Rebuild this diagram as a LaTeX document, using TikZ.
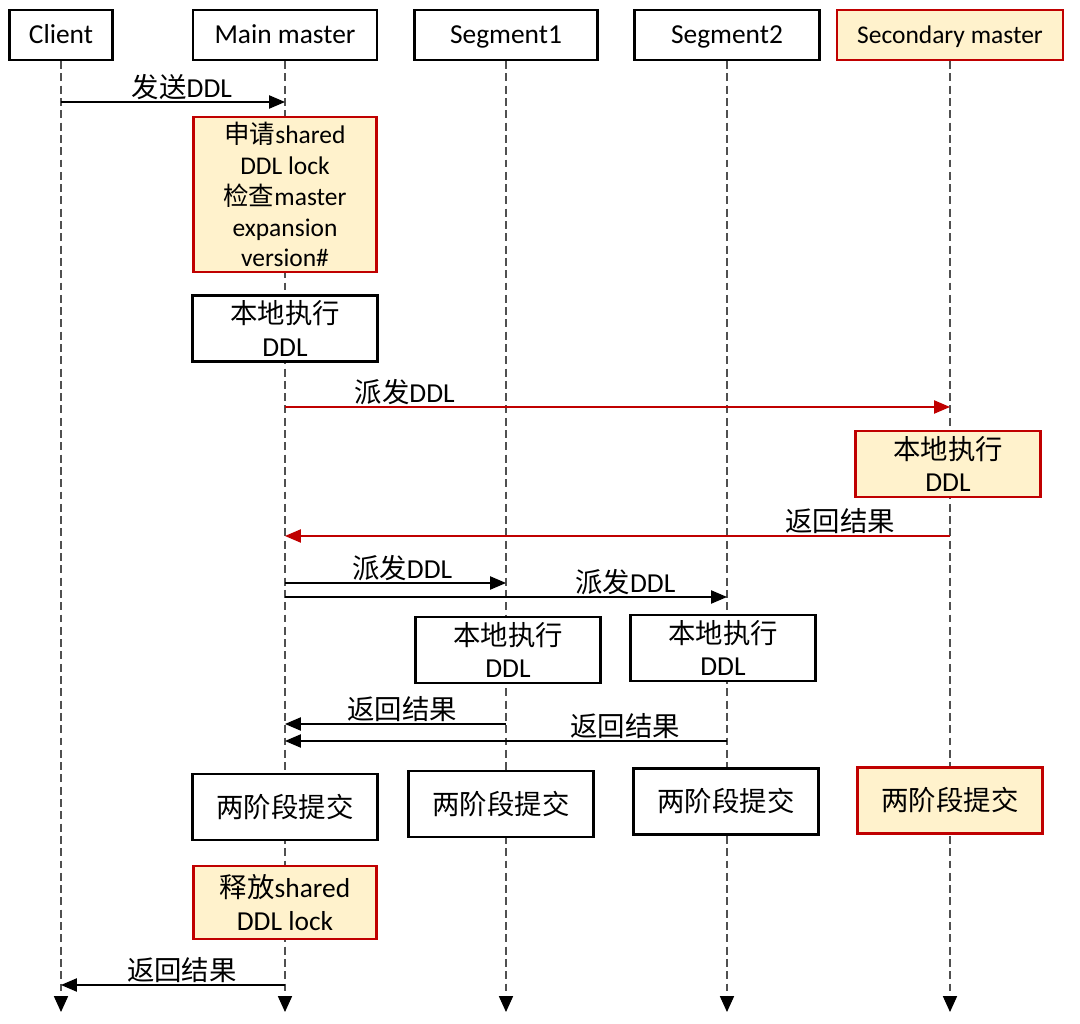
\documentclass[tikz,border=0pt]{standalone}
\usepackage{fontspec}
\setmainfont{Carlito}
\newfontfamily\zh{Noto Sans CJK SC}
\usetikzlibrary{arrows.meta}
\definecolor{lockfill}{HTML}{FFF2CC}
\definecolor{lockred}{HTML}{C00000}
\definecolor{lifegray}{HTML}{505050}
\begin{document}
\begin{tikzpicture}[x=0.02cm, y=-0.02cm,
  every node/.style={font=\fontsize{15.6}{18.7}\selectfont},
  actor/.style={draw, line width=1.3pt, fill=white, minimum height=1cm, inner sep=0pt, text height=12.8pt, text depth=3pt},
  lockbox/.style={draw=lockred, fill=lockfill},
  work/.style={draw, line width=1.3pt, fill=white, minimum width=3.7cm, minimum height=1.32cm, align=center, inner sep=0pt},
  lifeline/.style={lifegray, line width=0.6pt, dash pattern=on 4.5pt off 2.5pt, -{Triangle[length=9pt,width=8pt,color=black]}},
  msg/.style={line width=0.7pt, -{Triangle[length=9pt,width=7.5pt]}},
  lbl/.style={above, inner sep=1pt}]
\useasboundingbox (0,0) rectangle (1080,1024);
\node[actor, minimum width=2.06cm] (client) at (61,35) {Client};
\node[actor, minimum width=3.68cm] (mainm) at (285,35) {Main master};
\node[actor, minimum width=3.66cm] (seg1) at (506,35) {Segment1};
\node[actor, minimum width=3.7cm] (seg2) at (727,35) {Segment2};
\node[actor, lockbox, minimum width=4.52cm, font=\fontsize{14.5}{17}\selectfont] (secm) at (950,35) {Secondary master};
\coordinate (bottom) at (0,1012);
\foreach \n in {client,mainm,seg1,seg2,secm}
  \draw[lifeline] (\n.south) -- (\n.south |- bottom);
\node[work, lockbox, minimum width=3.66cm, minimum height=3.1cm, font=\fontsize{14.5}{17.6}\selectfont] (lock) at (285,194.5)
  {{\zh 申请}shared\\DDL lock\\{\zh 检查}master\\expansion\\version\#};
\node[work] (exec0) at (285,328.5) {{\zh 本地执行}\\DDL};
\node[work, lockbox] (exec3) at (948,464) {{\zh 本地执行}\\DDL};
\node[work] (exec1) at (508,650) {{\zh 本地执行}\\DDL};
\node[work] (exec2) at (723,648) {{\zh 本地执行}\\DDL};
\node[work] (commit0) at (285,807) {\zh 两阶段提交};
\node[work] (commit1) at (501,804) {\zh 两阶段提交};
\node[work] (commit2) at (726,801.5) {\zh 两阶段提交};
\node[work, lockbox] (commit3) at (950,800.5) {\zh 两阶段提交};
\node[work, lockbox, minimum width=3.66cm, minimum height=1.46cm] (release) at (285,902.5) {{\zh 释放}shared\\DDL lock};
\coordinate (t1) at (0,102);
\coordinate (t2) at (0,407);
\coordinate (t3) at (0,536);
\coordinate (t4) at (0,583);
\coordinate (t5) at (0,597);
\coordinate (t6) at (0,724);
\coordinate (t7) at (0,741);
\coordinate (t8) at (0,985);
\draw[msg] (client |- t1) -- node[lbl, pos=0.54] {{\zh 发送}DDL} (mainm |- t1);
\draw[msg, lockred] (mainm |- t2) -- node[lbl, pos=0.18, text=black] {{\zh 派发}DDL} (secm |- t2);
\draw[msg, lockred] (secm |- t3) -- node[lbl, pos=0.165, text=black] {\zh 返回结果} (mainm |- t3);
\draw[msg] (mainm |- t4) -- node[lbl, pos=0.53] {{\zh 派发}DDL} (seg1 |- t4);
\draw[msg] (mainm |- t5) -- node[lbl, pos=0.77] {{\zh 派发}DDL} (seg2 |- t5);
\draw[msg] (seg1 |- t6) -- node[lbl, pos=0.47] {\zh 返回结果} (mainm |- t6);
\draw[msg] (seg2 |- t7) -- node[lbl, pos=0.23] {\zh 返回结果} (mainm |- t7);
\draw[msg] (mainm |- t8) -- node[lbl, pos=0.46] {\zh 返回结果} (client |- t8);
\end{tikzpicture}
\end{document}
